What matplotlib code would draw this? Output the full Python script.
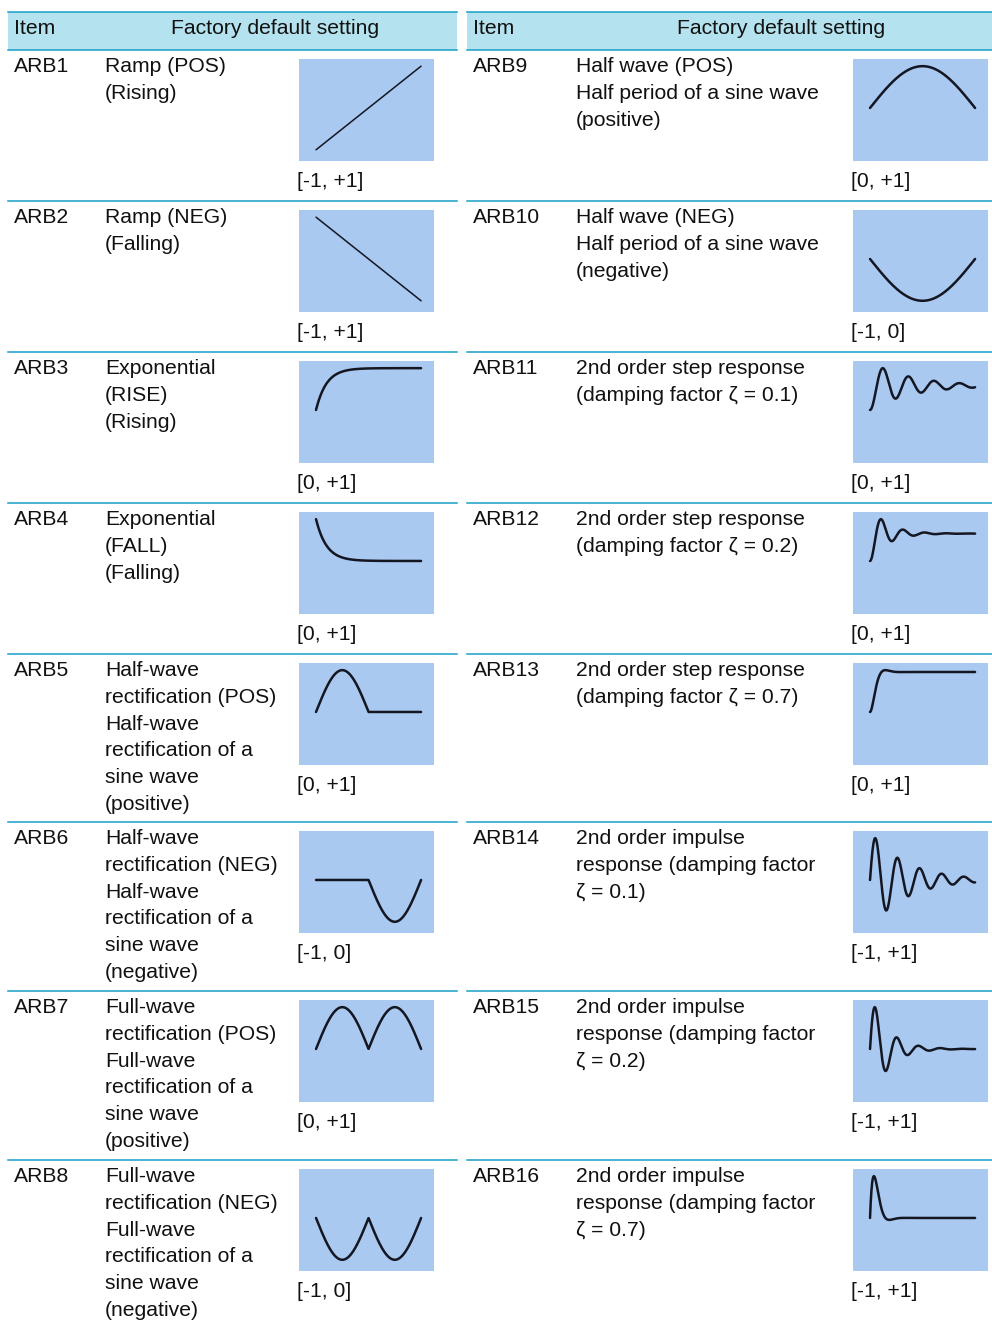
import numpy as np
import matplotlib
matplotlib.use("Agg")
import matplotlib.pyplot as plt
from matplotlib.patches import Rectangle

plt.rcParams['font.family'] = ['Liberation Sans', 'DejaVu Sans']

# ---------------- data ----------------
header_item = "Item"
header_setting = "Factory default setting"

left_items = ["ARB1", "ARB2", "ARB3", "ARB4", "ARB5", "ARB6", "ARB7", "ARB8"]
left_desc = [
    ["Ramp (POS)", "(Rising)"],
    ["Ramp (NEG)", "(Falling)"],
    ["Exponential", "(RISE)", "(Rising)"],
    ["Exponential", "(FALL)", "(Falling)"],
    ["Half-wave", "rectification (POS)", "Half-wave", "rectification of a", "sine wave", "(positive)"],
    ["Half-wave", "rectification (NEG)", "Half-wave", "rectification of a", "sine wave", "(negative)"],
    ["Full-wave", "rectification (POS)", "Full-wave", "rectification of a", "sine wave", "(positive)"],
    ["Full-wave", "rectification (NEG)", "Full-wave", "rectification of a", "sine wave", "(negative)"],
]
left_ranges = ["[-1, +1]", "[-1, +1]", "[0, +1]", "[0, +1]", "[0, +1]", "[-1, 0]", "[0, +1]", "[-1, 0]"]
left_waves = ["ramp_pos", "ramp_neg", "exp_rise", "exp_fall", "hwr_pos", "hwr_neg", "fwr_pos", "fwr_neg"]

right_items = ["ARB9", "ARB10", "ARB11", "ARB12", "ARB13", "ARB14", "ARB15", "ARB16"]
right_desc = [
    ["Half wave (POS)", "Half period of a sine wave", "(positive)"],
    ["Half wave (NEG)", "Half period of a sine wave", "(negative)"],
    ["2nd order step response", "(damping factor \u03b6 = 0.1)"],
    ["2nd order step response", "(damping factor \u03b6 = 0.2)"],
    ["2nd order step response", "(damping factor \u03b6 = 0.7)"],
    ["2nd order impulse", "response (damping factor", "\u03b6 = 0.1)"],
    ["2nd order impulse", "response (damping factor", "\u03b6 = 0.2)"],
    ["2nd order impulse", "response (damping factor", "\u03b6 = 0.7)"],
]
right_ranges = ["[0, +1]", "[-1, 0]", "[0, +1]", "[0, +1]", "[0, +1]", "[-1, +1]", "[-1, +1]", "[-1, +1]"]
right_waves = ["half_pos", "half_neg", "step", "step", "step", "impulse", "impulse", "impulse"]
right_zeta = [None, None, 0.1, 0.2, 0.7, 0.1, 0.2, 0.7]
# normalised time span (omega_n * T) shown in each thumbnail
right_span = [None, None, 26, 31, 30, 30, 31, 30]

# ---------------- waveform definitions ----------------
def waveform(kind, zeta=None, span=None):
    t = np.linspace(0, 1, 600)
    if kind == "ramp_pos":
        y = 2 * t - 1
    elif kind == "ramp_neg":
        y = 1 - 2 * t
    elif kind == "exp_rise":
        y = 1 - np.exp(-t / 0.1)
    elif kind == "exp_fall":
        y = np.exp(-t / 0.1)
    elif kind == "hwr_pos":
        y = np.maximum(0, np.sin(2 * np.pi * t))
    elif kind == "hwr_neg":
        y = np.minimum(0, np.sin(2 * np.pi * t))
    elif kind == "fwr_pos":
        y = np.abs(np.sin(2 * np.pi * t))
    elif kind == "fwr_neg":
        y = -np.abs(np.sin(2 * np.pi * t))
    elif kind == "half_pos":
        y = np.sin(np.pi * t)
    elif kind == "half_neg":
        y = -np.sin(np.pi * t)
    elif kind == "step":
        wt = span * t
        wd = np.sqrt(1 - zeta ** 2)
        y = 1 - np.exp(-zeta * wt) * (np.cos(wd * wt) + zeta / wd * np.sin(wd * wt))
        y = y / y.max()
    elif kind == "impulse":
        wt = span * t
        wd = np.sqrt(1 - zeta ** 2)
        y = np.exp(-zeta * wt) * np.sin(wd * wt)
        y = y / y.max()
    return t, y

# ---------------- layout ----------------
W, H = 992, 1320
fig = plt.figure(figsize=(W / 100, H / 100), dpi=100)
ax = fig.add_axes([0, 0, 1, 1])
ax.set_xlim(0, W)
ax.set_ylim(H, 0)
ax.axis('off')

rule_color = "#179ec6"
head_fill = "#b4e2ee"
thumb_fill = "#a9c9f0"
wave_color = "#141622"
fs = 15.2

row_tops = [50, 201, 352, 503, 654, 822, 991, 1160]
tables = [
    dict(x0=8, x1=457, item_x=14, desc_x=105, thumb_x=299, set_cx=275.5,
         items=left_items, desc=left_desc, ranges=left_ranges, waves=left_waves,
         zeta=[None] * 8, span=[None] * 8),
    dict(x0=467, x1=992, item_x=473, desc_x=576, thumb_x=853, set_cx=781,
         items=right_items, desc=right_desc, ranges=right_ranges, waves=right_waves,
         zeta=right_zeta, span=right_span),
]

tw, th = 135, 102
for tb in tables:
    ax.add_patch(Rectangle((tb['x0'], 12), tb['x1'] - tb['x0'], 38, facecolor=head_fill, edgecolor='none'))
    ax.plot([tb['x0'], tb['x1']], [12, 12], color=rule_color, lw=1.1)
    ax.plot([tb['x0'], tb['x1']], [50, 50], color=rule_color, lw=1.1)
    ax.text(tb['item_x'], 34, header_item, fontsize=fs, va='baseline', ha='left', color='#111111')
    ax.text(tb['set_cx'], 34, header_setting, fontsize=fs, va='baseline', ha='center', color='#111111')
    for i, top in enumerate(row_tops):
        if i > 0:
            ax.plot([tb['x0'], tb['x1']], [top, top], color=rule_color, lw=1.1)
        ax.text(tb['item_x'], top + 22, tb['items'][i], fontsize=fs, va='baseline', color='#111111')
        for k, line in enumerate(tb['desc'][i]):
            ax.text(tb['desc_x'], top + 22 + k * 26.8, line, fontsize=fs, va='baseline', color='#111111')
        ax.text(tb['thumb_x'] - 2, top + 137, tb['ranges'][i], fontsize=fs, va='baseline', color='#111111')
        # thumbnail
        ty = top + 9
        tax = fig.add_axes([tb['thumb_x'] / W, 1 - (ty + th) / H, tw / W, th / H])
        tax.set_facecolor(thumb_fill)
        for s in tax.spines.values():
            s.set_visible(False)
        tax.set_xticks([])
        tax.set_yticks([])
        tax.set_xlim(-0.162, 1.123)
        tax.set_ylim(-1.268, 1.171)
        t, y = waveform(tb['waves'][i], tb['zeta'][i], tb['span'][i])
        lw = 1.1 if tb['waves'][i].startswith("ramp") else 1.8
        tax.plot(t, y, color=wave_color, lw=lw, solid_capstyle='round')

fig.savefig("out.png", dpi=100)
